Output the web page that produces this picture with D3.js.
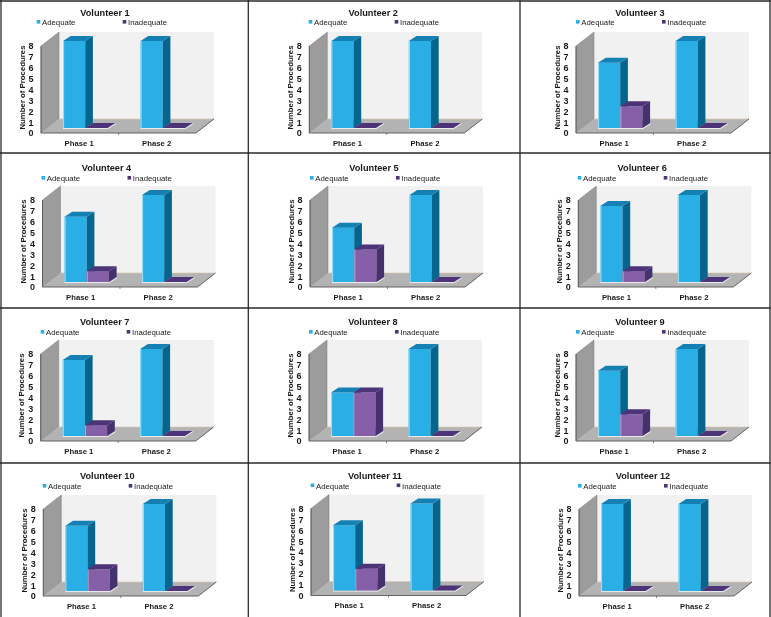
<!DOCTYPE html>
<html><head><meta charset="utf-8">
<script src="https://cdn.jsdelivr.net/npm/d3@7"></script>
<style>
html,body{margin:0;padding:0;background:#fff}
svg{display:block;filter:blur(0.4px)}
text{font-family:"Liberation Sans",Arial,sans-serif;fill:#1a1a1a}
</style></head><body><svg id="c" width="771" height="617"></svg>
<script>
const volunteers=["Volunteer 1","Volunteer 2","Volunteer 3","Volunteer 4","Volunteer 5","Volunteer 6","Volunteer 7","Volunteer 8","Volunteer 9","Volunteer 10","Volunteer 11","Volunteer 12"];
const phases=["Phase 1","Phase 2"];
const seriesNames=["Adequate","Inadequate"];
const adequatePhase1=[8,8,6,6,5,7,7,4,6,6,6,8];
const inadequatePhase1=[0,0,2,1,3,1,1,4,2,2,2,0];
const adequatePhase2=[8,8,8,8,8,8,8,8,8,8,8,8];
const inadequatePhase2=[0,0,0,0,0,0,0,0,0,0,0,0];
const yTicks=[0,1,2,3,4,5,6,7,8];
const yTitle="Number of Procedures";

const svg=d3.select("#c");
// panel layout (pixel origin of each small chart)
const originX=[41,309.3,576,42.5,310,578.3,40.7,309,576,43.3,311,579];
const originY=[133,133,133,287,287,287,441,441,441,596,595.5,596];
const legendShift=[-4.3,-0.6,0,-1,0,-0.6,0,0,0,-0.6,-0.3,-1];
const titleDy=[-117,-116,-116,-117], legendDy=[-108,-106,-106,-107];
const W=155,H=87,DX=18,DY=14,bdx=7.7,bdy=5,bw=22.2,barInset=22,barBase=-5;
const col={Adequate:{f:"#29aee6",t:"#1580b4",s:"#05658f",l:"#9fe3fb",k:"#29aee6"},Inadequate:{f:"#8560a8",t:"#4d3478",s:"#45316d",l:"#b9a4cf",k:"#4d3478"}};
const gap=d3.scaleBand().domain(phases).range([0,W]);
const y=d3.scaleLinear().domain([0,8]).range([0,-H]);
const pts=a=>a.map(p=>p.join(",")).join(" ");
const fontFam='"Liberation Sans",Arial,sans-serif';

const rule=[[0,1,771,1],[0,153,771,153],[0,308,771,308],[0,463,771,463],[1,0,1,617],[248.3,0,248.3,617],[520,0,520,617],[770,0,770,617]];
svg.selectAll("line.r").data(rule).join("line").attr("class","r")
 .attr("x1",d=>d[0]).attr("y1",d=>d[1]).attr("x2",d=>d[2]).attr("y2",d=>d[3])
 .attr("stroke","#2a2a2a").attr("stroke-width",1.3);

volunteers.forEach((name,i)=>{
  const row=Math.floor(i/3);
  const g=svg.append("g").attr("transform",`translate(${originX[i]},${originY[i]})`);
  g.append("polygon").attr("points",pts([[DX,y(8)-DY],[W+DX,y(8)-DY],[W+DX,-DY],[DX,-DY]])).attr("fill","#f1f1f1");
  g.append("polygon").attr("points",pts([[0,0],[DX,-DY],[DX,y(8)-DY],[0,y(8)]])).attr("fill","#9c9c9c").attr("stroke","#7a7a7a").attr("stroke-width",.5);
  g.append("polygon").attr("points",pts([[0,0],[W,0],[W+DX,-DY],[DX,-DY]])).attr("fill","#b3b3b3");
  g.append("line").attr("x1",DX).attr("x2",W+DX).attr("y1",-DY).attr("y2",-DY).attr("stroke","#d9c8b0").attr("stroke-width",.7);
  g.append("polyline").attr("points",pts([[0,y(8)],[0,0],[W,0],[W+DX,-DY]])).attr("fill","none").attr("stroke","#555").attr("stroke-width",.9);
  g.append("line").attr("x1",gap(phases[1])).attr("x2",gap(phases[1])).attr("y1",0).attr("y2",2).attr("stroke","#555").attr("stroke-width",.7);

  const rows=[[adequatePhase1[i],inadequatePhase1[i]],[adequatePhase2[i],inadequatePhase2[i]]];
  phases.forEach((ph,pi)=>{
    seriesNames.forEach((s,si)=>{
      const v=rows[pi][si], c=col[s];
      const x0=gap(ph)+barInset+si*bw, x1=x0+bw, yb=barBase, yt=yb+y(v);
      const b=g.append("g");
      b.append("polyline").attr("points",pts([[x0,yb+.6],[x1+.6,yb+.6],[x1+bdx+.6,yb-bdy+.6]])).attr("fill","none").attr("stroke","#f4f4f4").attr("stroke-width",.9);
      if(v>0){
        b.append("rect").attr("x",x0).attr("y",yt).attr("width",bw).attr("height",yb-yt).attr("fill",c.f);
        b.append("line").attr("x1",x0+.6).attr("x2",x0+.6).attr("y1",yt).attr("y2",yb).attr("stroke",c.l).attr("stroke-width",1);
        b.append("polygon").attr("points",pts([[x1,yt],[x1+bdx,yt-bdy],[x1+bdx,yb-bdy],[x1,yb]])).attr("fill",c.s);
      }
      b.append("polygon").attr("points",pts([[x0,yt],[x1,yt],[x1+bdx,yt-bdy],[x0+bdx,yt-bdy]])).attr("fill",c.t);
    });
  });

  const ya=g.append("g").call(d3.axisLeft(y).tickValues(yTicks).tickSize(0).tickPadding(7.5).tickFormat(d3.format("d")));
  ya.select(".domain").remove();
  ya.selectAll("text").attr("font-size",9).attr("font-weight","bold").style("font-family",fontFam);
  const xa=g.append("g").attr("transform","translate(-0.6,0)").call(d3.axisBottom(gap).tickSize(0).tickPadding(7.5));
  xa.select(".domain").remove();
  xa.selectAll("text").attr("font-size",7.7).attr("font-weight","bold").style("font-family",fontFam);

  g.append("text").attr("transform",`translate(-16.5,${y(4)-2}) rotate(-90)`).attr("text-anchor","middle").attr("font-size",7.8).attr("font-weight","bold").text(yTitle);
  g.append("text").attr("x",64).attr("y",titleDy[row]).attr("text-anchor","middle").attr("font-size",9.2).attr("font-weight","bold").text(name);
  seriesNames.forEach((s,si)=>{
    const lx=legendShift[i]+si*86;
    g.append("rect").attr("x",lx).attr("y",legendDy[row]-5).attr("width",3.6).attr("height",3.6).attr("fill",col[s].k);
    g.append("text").attr("x",lx+5.3).attr("y",legendDy[row]).attr("font-size",7.8).text(s);
  });
});
</script></body></html>
